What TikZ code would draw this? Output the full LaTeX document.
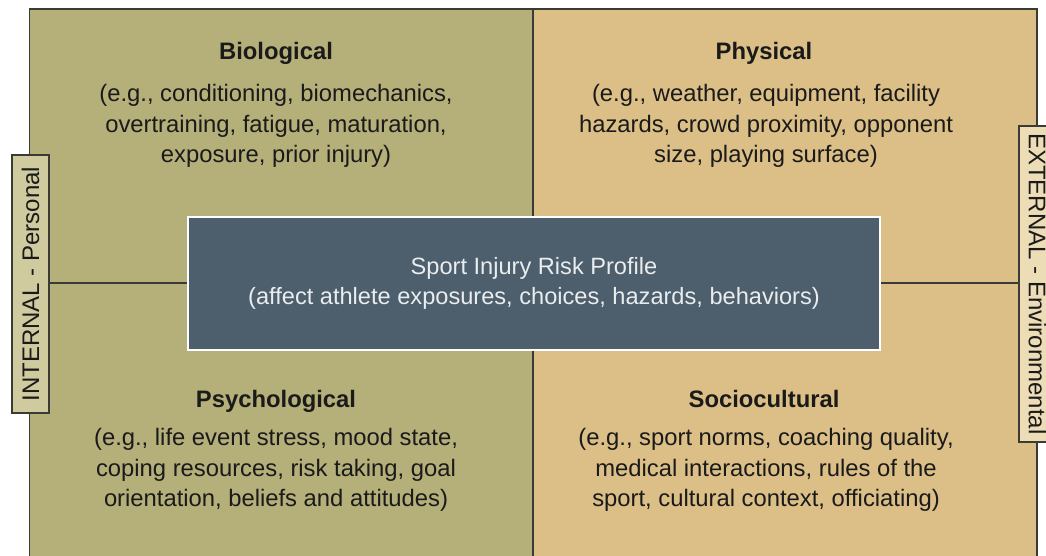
\documentclass[tikz,border=0pt]{standalone}
\usepackage{fontspec}
\setmainfont{Liberation Sans}
\definecolor{internalfill}{HTML}{B5AF7A}
\definecolor{externalfill}{HTML}{DBBF87}
\definecolor{internaltag}{HTML}{D0CB9F}
\definecolor{externaltag}{HTML}{EDDDB6}
\definecolor{profilefill}{HTML}{4D5E6C}
\definecolor{profiletext}{HTML}{E9EDEF}
\definecolor{framecol}{HTML}{3A3A36}
\definecolor{textcol}{HTML}{1A1A1A}
\tikzset{
  quadtitle/.style={font=\fontsize{23.8}{30}\selectfont\bfseries, text=textcol, inner sep=0pt, anchor=base},
  quadbody/.style={font=\fontsize{23.8}{30.5}\selectfont, text=textcol, align=center, inner sep=0pt},
  divider/.style={draw=framecol, line width=1.9pt},
  sidetag/.style={draw=framecol, line width=1.4pt, font=\fontsize{24}{28}\selectfont, text=textcol,
    minimum width=258pt, minimum height=37pt, inner sep=0pt},
  profilebox/.style={fill=profilefill, draw=white, line width=2.2pt, text=profiletext,
    minimum width=692pt, minimum height=133pt, align=center, font=\fontsize{23.6}{30}\selectfont}
}
\begin{document}
\begin{tikzpicture}[x=1pt,y=-1pt]
\useasboundingbox (0,0) rectangle (1046,556);
\clip (0,0) rectangle (1046,556);
\fill[white] (0,0) rectangle (1046,556);
% quadrant backgrounds
\fill[internalfill] (29.5,9) rectangle (533.3,600);
\fill[externalfill] (533.3,9) rectangle (1036.7,600);
\draw[framecol, line width=1.8pt] (29.5,600) -- (29.5,9) -- (1036.7,9) -- (1036.7,600);
% central profile box
\node[profilebox] (profile) at (534,283.5)
  {Sport Injury Risk Profile\\(affect athlete exposures, choices, hazards, behaviors)};
% dividers running from the frame to the central box
\coordinate (topmid) at (533.3,9);
\coordinate (botmid) at (533.3,600);
\coordinate (leftmid) at (29.5,283);
\coordinate (rightmid) at (1036.7,283);
\draw[divider] (topmid) -- (topmid |- profile.north);
\draw[divider] (botmid) -- (botmid |- profile.south);
\draw[divider] (leftmid) -- (leftmid -| profile.west);
\draw[divider] (rightmid) -- (rightmid -| profile.east);
% quadrant texts
\node[quadtitle] (bio) at (276,59.5) {Biological};
\node[quadbody] (biotext) at (276,126) {(e.g., conditioning, biomechanics,\\overtraining, fatigue, maturation,\\exposure, prior injury)};
\node[quadtitle] (phys) at (764,59.5) {Physical};
\node[quadbody] (phystext) at (766,126) {(e.g., weather, equipment, facility\\hazards, crowd proximity, opponent\\size, playing surface)};
\node[quadtitle] (psych) at (276,407.5) {Psychological};
\node[quadbody] (psychtext) at (276,470) {(e.g., life event stress, mood state,\\coping resources, risk taking, goal\\orientation, beliefs and attitudes)};
\node[quadtitle] (socio) at (764,407.5) {Sociocultural};
\node[quadbody] (sociotext) at (766,470) {(e.g., sport norms, coaching quality,\\medical interactions, rules of the\\sport, cultural context, officiating)};
% side tags
\node[sidetag, fill=internaltag, rotate=90] (internal) at (30.5,284) {INTERNAL - Personal};
\node[sidetag, fill=externaltag, rotate=-90, minimum width=316pt] (external) at (1037.5,284) {EXTERNAL - Environmental};
\end{tikzpicture}
\end{document}
